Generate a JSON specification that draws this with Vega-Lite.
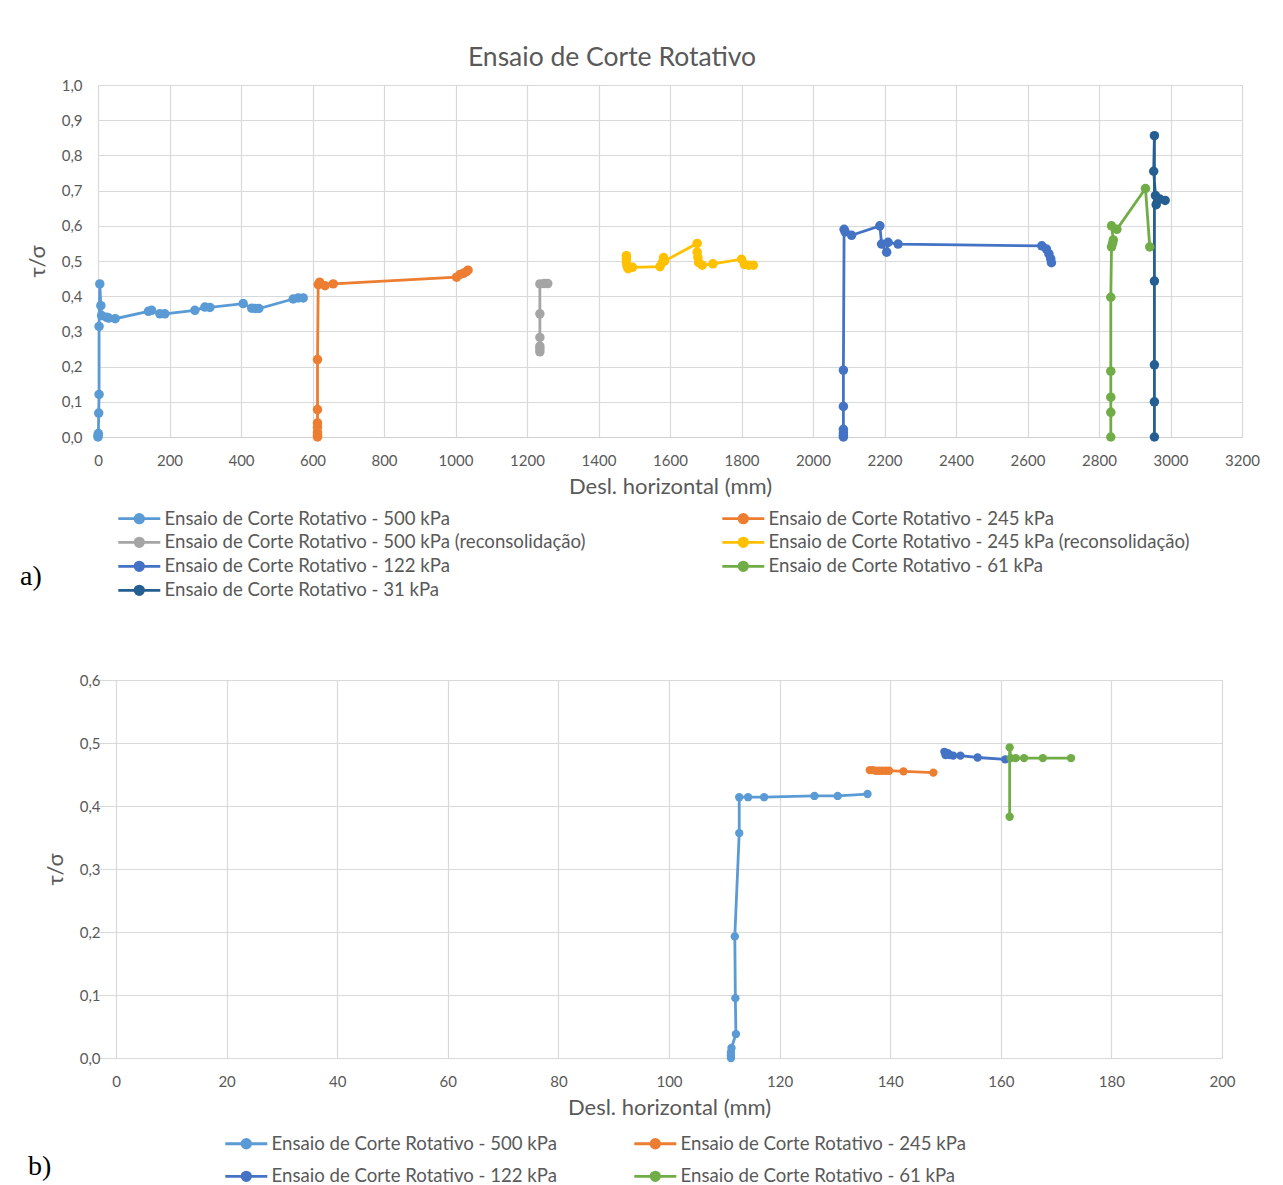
{
  "$schema": "https://vega.github.io/schema/vega-lite/v6.json",
  "background": "white",
  "padding": {"left": 20, "top": 44, "right": 0, "bottom": 0},
  "columns": 1,
  "spacing": 72,
  "datasets": {
    "a": [
      {"s": "500 kPa", "i": 1, "x": 0, "y": 0},
      {"s": "500 kPa", "i": 2, "x": 0, "y": 0.004},
      {"s": "500 kPa", "i": 3, "x": 1, "y": 0.01},
      {"s": "500 kPa", "i": 4, "x": 2, "y": 0.068},
      {"s": "500 kPa", "i": 5, "x": 3, "y": 0.121},
      {"s": "500 kPa", "i": 6, "x": 3, "y": 0.314},
      {"s": "500 kPa", "i": 7, "x": 5, "y": 0.435},
      {"s": "500 kPa", "i": 8, "x": 8, "y": 0.373},
      {"s": "500 kPa", "i": 9, "x": 10, "y": 0.345},
      {"s": "500 kPa", "i": 10, "x": 24, "y": 0.34},
      {"s": "500 kPa", "i": 11, "x": 30, "y": 0.338},
      {"s": "500 kPa", "i": 12, "x": 48, "y": 0.336},
      {"s": "500 kPa", "i": 13, "x": 141, "y": 0.357},
      {"s": "500 kPa", "i": 14, "x": 150, "y": 0.36},
      {"s": "500 kPa", "i": 15, "x": 173, "y": 0.35},
      {"s": "500 kPa", "i": 16, "x": 187, "y": 0.35},
      {"s": "500 kPa", "i": 17, "x": 271, "y": 0.36},
      {"s": "500 kPa", "i": 18, "x": 299, "y": 0.369},
      {"s": "500 kPa", "i": 19, "x": 313, "y": 0.368},
      {"s": "500 kPa", "i": 20, "x": 406, "y": 0.379},
      {"s": "500 kPa", "i": 21, "x": 430, "y": 0.366},
      {"s": "500 kPa", "i": 22, "x": 440, "y": 0.365},
      {"s": "500 kPa", "i": 23, "x": 450, "y": 0.365},
      {"s": "500 kPa", "i": 24, "x": 546, "y": 0.392},
      {"s": "500 kPa", "i": 25, "x": 560, "y": 0.395},
      {"s": "500 kPa", "i": 26, "x": 574, "y": 0.395},
      {"s": "245 kPa", "i": 1, "x": 614, "y": 0},
      {"s": "245 kPa", "i": 2, "x": 614, "y": 0.005},
      {"s": "245 kPa", "i": 3, "x": 614, "y": 0.013},
      {"s": "245 kPa", "i": 4, "x": 614, "y": 0.028},
      {"s": "245 kPa", "i": 5, "x": 614, "y": 0.04},
      {"s": "245 kPa", "i": 6, "x": 614, "y": 0.078},
      {"s": "245 kPa", "i": 7, "x": 614, "y": 0.22},
      {"s": "245 kPa", "i": 8, "x": 616, "y": 0.433},
      {"s": "245 kPa", "i": 9, "x": 620, "y": 0.44},
      {"s": "245 kPa", "i": 10, "x": 635, "y": 0.43},
      {"s": "245 kPa", "i": 11, "x": 658, "y": 0.435},
      {"s": "245 kPa", "i": 12, "x": 1003, "y": 0.454},
      {"s": "245 kPa", "i": 13, "x": 1013, "y": 0.462},
      {"s": "245 kPa", "i": 14, "x": 1022, "y": 0.465},
      {"s": "245 kPa", "i": 15, "x": 1031, "y": 0.47},
      {"s": "245 kPa", "i": 16, "x": 1035, "y": 0.474},
      {"s": "500 kPa (reconsolidação)", "i": 1, "x": 1236, "y": 0.242},
      {"s": "500 kPa (reconsolidação)", "i": 2, "x": 1236, "y": 0.25},
      {"s": "500 kPa (reconsolidação)", "i": 3, "x": 1236, "y": 0.258},
      {"s": "500 kPa (reconsolidação)", "i": 4, "x": 1236, "y": 0.283},
      {"s": "500 kPa (reconsolidação)", "i": 5, "x": 1236, "y": 0.35},
      {"s": "500 kPa (reconsolidação)", "i": 6, "x": 1236, "y": 0.435},
      {"s": "500 kPa (reconsolidação)", "i": 7, "x": 1248, "y": 0.436},
      {"s": "500 kPa (reconsolidação)", "i": 8, "x": 1258, "y": 0.436},
      {"s": "245 kPa (reconsolidação)", "i": 1, "x": 1478, "y": 0.515},
      {"s": "245 kPa (reconsolidação)", "i": 2, "x": 1478, "y": 0.505},
      {"s": "245 kPa (reconsolidação)", "i": 3, "x": 1478, "y": 0.495},
      {"s": "245 kPa (reconsolidação)", "i": 4, "x": 1480, "y": 0.485},
      {"s": "245 kPa (reconsolidação)", "i": 5, "x": 1483, "y": 0.478},
      {"s": "245 kPa (reconsolidação)", "i": 6, "x": 1495, "y": 0.482},
      {"s": "245 kPa (reconsolidação)", "i": 7, "x": 1572, "y": 0.484},
      {"s": "245 kPa (reconsolidação)", "i": 8, "x": 1578, "y": 0.495},
      {"s": "245 kPa (reconsolidação)", "i": 9, "x": 1582, "y": 0.51},
      {"s": "245 kPa (reconsolidação)", "i": 10, "x": 1585, "y": 0.5},
      {"s": "245 kPa (reconsolidação)", "i": 11, "x": 1676, "y": 0.55},
      {"s": "245 kPa (reconsolidação)", "i": 12, "x": 1676, "y": 0.525},
      {"s": "245 kPa (reconsolidação)", "i": 13, "x": 1678, "y": 0.51},
      {"s": "245 kPa (reconsolidação)", "i": 14, "x": 1680, "y": 0.496},
      {"s": "245 kPa (reconsolidação)", "i": 15, "x": 1690, "y": 0.488},
      {"s": "245 kPa (reconsolidação)", "i": 16, "x": 1720, "y": 0.492},
      {"s": "245 kPa (reconsolidação)", "i": 17, "x": 1800, "y": 0.505},
      {"s": "245 kPa (reconsolidação)", "i": 18, "x": 1808, "y": 0.49},
      {"s": "245 kPa (reconsolidação)", "i": 19, "x": 1820, "y": 0.488},
      {"s": "245 kPa (reconsolidação)", "i": 20, "x": 1833, "y": 0.488},
      {"s": "122 kPa", "i": 1, "x": 2085, "y": 0},
      {"s": "122 kPa", "i": 2, "x": 2085, "y": 0.005},
      {"s": "122 kPa", "i": 3, "x": 2085, "y": 0.012},
      {"s": "122 kPa", "i": 4, "x": 2085, "y": 0.022},
      {"s": "122 kPa", "i": 5, "x": 2085, "y": 0.087},
      {"s": "122 kPa", "i": 6, "x": 2085, "y": 0.19},
      {"s": "122 kPa", "i": 7, "x": 2087, "y": 0.59},
      {"s": "122 kPa", "i": 8, "x": 2090, "y": 0.583},
      {"s": "122 kPa", "i": 9, "x": 2108, "y": 0.573},
      {"s": "122 kPa", "i": 10, "x": 2187, "y": 0.6},
      {"s": "122 kPa", "i": 11, "x": 2192, "y": 0.548},
      {"s": "122 kPa", "i": 12, "x": 2206, "y": 0.525},
      {"s": "122 kPa", "i": 13, "x": 2210, "y": 0.553},
      {"s": "122 kPa", "i": 14, "x": 2238, "y": 0.548},
      {"s": "122 kPa", "i": 15, "x": 2640, "y": 0.543},
      {"s": "122 kPa", "i": 16, "x": 2653, "y": 0.534},
      {"s": "122 kPa", "i": 17, "x": 2660, "y": 0.52},
      {"s": "122 kPa", "i": 18, "x": 2665, "y": 0.506},
      {"s": "122 kPa", "i": 19, "x": 2667, "y": 0.495},
      {"s": "61 kPa", "i": 1, "x": 2833, "y": 0},
      {"s": "61 kPa", "i": 2, "x": 2833, "y": 0.07},
      {"s": "61 kPa", "i": 3, "x": 2833, "y": 0.113},
      {"s": "61 kPa", "i": 4, "x": 2833, "y": 0.187},
      {"s": "61 kPa", "i": 5, "x": 2833, "y": 0.397},
      {"s": "61 kPa", "i": 6, "x": 2835, "y": 0.54},
      {"s": "61 kPa", "i": 7, "x": 2838, "y": 0.55},
      {"s": "61 kPa", "i": 8, "x": 2840, "y": 0.56},
      {"s": "61 kPa", "i": 9, "x": 2835, "y": 0.6},
      {"s": "61 kPa", "i": 10, "x": 2850, "y": 0.59},
      {"s": "61 kPa", "i": 11, "x": 2930, "y": 0.706},
      {"s": "61 kPa", "i": 12, "x": 2942, "y": 0.54},
      {"s": "31 kPa", "i": 1, "x": 2955, "y": 0},
      {"s": "31 kPa", "i": 2, "x": 2955, "y": 0.1},
      {"s": "31 kPa", "i": 3, "x": 2955, "y": 0.205},
      {"s": "31 kPa", "i": 4, "x": 2955, "y": 0.443},
      {"s": "31 kPa", "i": 5, "x": 2955, "y": 0.856},
      {"s": "31 kPa", "i": 6, "x": 2953, "y": 0.755},
      {"s": "31 kPa", "i": 7, "x": 2958, "y": 0.686},
      {"s": "31 kPa", "i": 8, "x": 2960, "y": 0.66},
      {"s": "31 kPa", "i": 9, "x": 2970, "y": 0.676},
      {"s": "31 kPa", "i": 10, "x": 2985, "y": 0.672}
    ],
    "b": [
      {"s": "500 kPa", "i": 1, "x": 111.2, "y": 0},
      {"s": "500 kPa", "i": 2, "x": 111.2, "y": 0.004},
      {"s": "500 kPa", "i": 3, "x": 111.2, "y": 0.009},
      {"s": "500 kPa", "i": 4, "x": 111.3, "y": 0.016},
      {"s": "500 kPa", "i": 5, "x": 112.1, "y": 0.038},
      {"s": "500 kPa", "i": 6, "x": 112.0, "y": 0.095},
      {"s": "500 kPa", "i": 7, "x": 111.9, "y": 0.193},
      {"s": "500 kPa", "i": 8, "x": 112.7, "y": 0.357},
      {"s": "500 kPa", "i": 9, "x": 112.7, "y": 0.414},
      {"s": "500 kPa", "i": 10, "x": 114.3, "y": 0.414},
      {"s": "500 kPa", "i": 11, "x": 117.2, "y": 0.414},
      {"s": "500 kPa", "i": 12, "x": 126.3, "y": 0.416},
      {"s": "500 kPa", "i": 13, "x": 130.5, "y": 0.416},
      {"s": "500 kPa", "i": 14, "x": 135.9, "y": 0.419},
      {"s": "245 kPa", "i": 1, "x": 136.3, "y": 0.457},
      {"s": "245 kPa", "i": 2, "x": 136.8, "y": 0.457},
      {"s": "245 kPa", "i": 3, "x": 137.4, "y": 0.456},
      {"s": "245 kPa", "i": 4, "x": 138.0, "y": 0.456},
      {"s": "245 kPa", "i": 5, "x": 138.6, "y": 0.456},
      {"s": "245 kPa", "i": 6, "x": 139.2, "y": 0.456},
      {"s": "245 kPa", "i": 7, "x": 139.8, "y": 0.456},
      {"s": "245 kPa", "i": 8, "x": 142.4, "y": 0.455},
      {"s": "245 kPa", "i": 9, "x": 147.8, "y": 0.453},
      {"s": "122 kPa", "i": 1, "x": 149.8, "y": 0.486},
      {"s": "122 kPa", "i": 2, "x": 150.0, "y": 0.481},
      {"s": "122 kPa", "i": 3, "x": 150.4, "y": 0.484},
      {"s": "122 kPa", "i": 4, "x": 150.8, "y": 0.481},
      {"s": "122 kPa", "i": 5, "x": 151.4, "y": 0.48},
      {"s": "122 kPa", "i": 6, "x": 152.7, "y": 0.48},
      {"s": "122 kPa", "i": 7, "x": 155.8, "y": 0.477},
      {"s": "122 kPa", "i": 8, "x": 160.8, "y": 0.474},
      {"s": "61 kPa", "i": 1, "x": 161.6, "y": 0.383},
      {"s": "61 kPa", "i": 2, "x": 161.6, "y": 0.493},
      {"s": "61 kPa", "i": 3, "x": 161.8, "y": 0.476},
      {"s": "61 kPa", "i": 4, "x": 162.7, "y": 0.476},
      {"s": "61 kPa", "i": 5, "x": 164.2, "y": 0.476},
      {"s": "61 kPa", "i": 6, "x": 167.6, "y": 0.476},
      {"s": "61 kPa", "i": 7, "x": 172.7, "y": 0.476}
    ]
  },
  "resolve": {
    "scale": {"x": "independent", "y": "independent", "color": "independent"},
    "legend": {"color": "independent"}
  },
  "concat": [
    {
      "name": "pa",
      "width": 1144,
      "height": 352,
      "title": {"text": "Ensaio de Corte Rotativo", "frame": "group", "anchor": "middle", "dx": -58, "offset": 7, "fontSize": 26.5, "font": "Lato", "fontWeight": "normal", "color": "#595959"},
      "data": {"name": "a"},
      "encoding": {
        "x": {"field": "x", "type": "quantitative", "scale": {"domain": [0, 3200], "nice": false, "zero": false},
              "axis": {"values": [0, 200, 400, 600, 800, 1000, 1200, 1400, 1600, 1800, 2000, 2200, 2400, 2600, 2800, 3000, 3200], "format": "d", "title": "Desl. horizontal (mm)"}},
        "y": {"field": "y", "type": "quantitative", "scale": {"domain": [0, 1], "nice": false},
              "axis": {"values": [0, 0.1, 0.2, 0.3, 0.4, 0.5, 0.6, 0.7, 0.8, 0.9, 1.0], "format": ".1f", "title": "τ/σ"}},
        "color": {"field": "s", "type": "nominal",
          "scale": {"domain": ["500 kPa", "245 kPa", "500 kPa (reconsolidação)", "245 kPa (reconsolidação)", "122 kPa", "61 kPa", "31 kPa"],
                    "range": ["#5B9BD5", "#ED7D31", "#A5A5A5", "#FFC000", "#4472C4", "#70AD47", "#255E91"]},
          "legend": {"orient": "none", "legendX": -78, "legendY": 424, "direction": "horizontal", "columns": 2, "columnPadding": 130, "rowPadding": 3,
                     "labelExpr": "'Ensaio de Corte Rotativo - ' + datum.label",
                     "title": "a)", "titlePadding": 72, "titleAnchor": "middle", "titleBaseline": "line-top", "titleLineHeight": 44}}
      },
      "layer": [
        {"mark": {"type": "line", "strokeWidth": 2.8}, "encoding": {"order": {"field": "i"}}},
        {"mark": {"type": "point", "filled": true, "opacity": 1, "size": 90}}
      ]
    },
    {
      "name": "pb",
      "width": 1124,
      "height": 378,
      "data": {"name": "b"},
      "encoding": {
        "x": {"field": "x", "type": "quantitative", "scale": {"domain": [-3.255, 200], "nice": false, "zero": false},
              "axis": {"values": [0, 20, 40, 60, 80, 100, 120, 140, 160, 180, 200], "format": "d", "title": "Desl. horizontal (mm)", "domain": false, "titleX": 571}},
        "y": {"field": "y", "type": "quantitative", "scale": {"domain": [0, 0.6], "nice": false},
              "axis": {"values": [0, 0.1, 0.2, 0.3, 0.4, 0.5, 0.6], "format": ".1f", "title": "τ/σ", "offset": -18}},
        "color": {"field": "s", "type": "nominal",
          "scale": {"domain": ["500 kPa", "245 kPa", "122 kPa", "61 kPa"],
                    "range": ["#5B9BD5", "#ED7D31", "#4472C4", "#70AD47"]},
          "legend": {"orient": "none", "legendX": -70, "legendY": 454, "direction": "horizontal", "columns": 2, "columnPadding": 71, "rowPadding": 12,
                     "labelExpr": "'Ensaio de Corte Rotativo - ' + datum.label",
                     "title": "b)", "titlePadding": 169, "titleAnchor": "middle", "titleBaseline": "line-top", "titleLineHeight": 14}}
      },
      "layer": [
        {"mark": {"type": "line", "strokeWidth": 2.8}, "encoding": {"order": {"field": "i"}}},
        {"mark": {"type": "point", "filled": true, "opacity": 1, "size": 70}}
      ]
    }
  ],
  "config": {
    "locale": {"number": {"decimal": ",", "thousands": ".", "grouping": [3], "currency": ["", " €"]}},
    "view": {"stroke": null},
    "axis": {
      "grid": true, "gridColor": "#D9D9D9", "gridWidth": 1.2, "ticks": false,
      "domainColor": "#D0D0D0", "domainWidth": 1.2,
      "labelFont": "Lato", "labelFontSize": 15, "labelColor": "#595959",
      "titleFont": "Lato", "titleFontSize": 22, "titleFontWeight": "normal", "titleColor": "#595959"
    },
    "axisX": {"labelPadding": 16, "titlePadding": 8, "labelFlush": false},
    "axisY": {"domain": false, "labelPadding": 16, "titlePadding": 12, "titleFontSize": 22},
    "legend": {
      "padding": 0, "labelFont": "Lato", "labelFontSize": 18.6, "labelColor": "#595959", "labelLimit": 0,
      "symbolType": "M-1,0L7.4,0M2.35,0A0.85,0.85,0,1,0,4.05,0A0.85,0.85,0,1,0,2.35,0Z",
      "symbolSize": 100, "symbolStrokeWidth": 2.8, "labelOffset": 32,
      "titleOrient": "left", "titleFont": "Liberation Serif", "titleFontSize": 28,
      "titleFontWeight": "normal", "titleColor": "#000000"
    }
  }
}
